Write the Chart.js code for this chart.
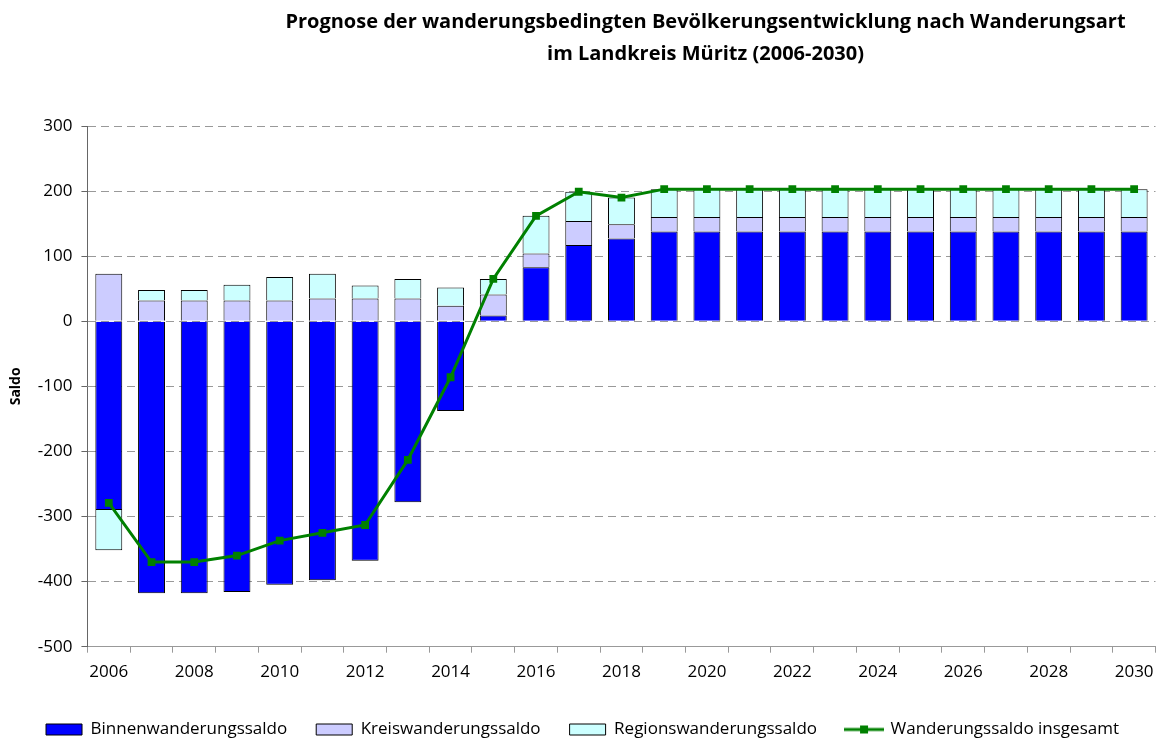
<!DOCTYPE html>
<html>
<head>
<meta charset="utf-8">
<script src="https://cdn.jsdelivr.net/npm/chart.js@4.4.0/dist/chart.umd.min.js"></script>
<style>
  html, body { margin: 0; padding: 0; background: #fff; }
  .chart-box { width: 1161px; height: 742px; }
</style>
</head>
<body>
<div class="chart-box"><canvas id="chart"></canvas></div>
<script>
const years = ["2006", "2007", "2008", "2009", "2010", "2011", "2012", "2013", "2014", "2015", "2016", "2017", "2018",
  "2019", "2020", "2021", "2022", "2023", "2024", "2025", "2026", "2027", "2028", "2029", "2030"];

const binnen = [-290, -418, -418, -416, -405, -398, -368, -278, -138, 9, 83, 117, 127,
  138, 138, 138, 138, 138, 138, 138, 138, 138, 138, 138, 138];
const kreis = [73, 32, 32, 32, 32, 35, 35, 35, 24, 32, 21, 37, 22,
  22, 22, 22, 22, 22, 22, 22, 22, 22, 22, 22, 22];
const region = [-62, 16, 16, 24, 36, 38, 20, 30, 28, 24, 58, 45, 41,
  43, 43, 43, 43, 43, 43, 43, 43, 43, 43, 43, 43];
const insgesamt = [-279, -370, -370, -360, -337, -325, -313, -213, -86, 65, 162, 199, 190,
  203, 203, 203, 203, 203, 203, 203, 203, 203, 203, 203, 203];

const yTicks = [-500, -400, -300, -200, -100, 0, 100, 200, 300];

const font = "'Open Sans', 'DejaVu Sans', sans-serif";

// little line+square icon for the legend entry of the line
const lineIcon = document.createElement("canvas");
lineIcon.width = 40;
lineIcon.height = 12;
const ic = lineIcon.getContext("2d");
ic.strokeStyle = "#008000";
ic.lineWidth = 3;
ic.beginPath();
ic.moveTo(0, 6);
ic.lineTo(40, 6);
ic.stroke();
ic.fillStyle = "#008000";
ic.fillRect(16, 2, 8, 8);

// move the title centre to the right like in the original
const shiftTitle = {
  id: "shiftTitle",
  afterLayout(chart) {
    if (chart.titleBlock) chart.titleBlock.left = 254;
  },
};

const barStyle = {
  type: "bar",
  borderColor: "#000",
  borderWidth: 1,
  categoryPercentage: 1,
  barPercentage: 0.63,
  stack: "saldo",
};

new Chart(document.getElementById("chart"), {
  type: "bar",
  data: {
    labels: years,
    datasets: [
      { ...barStyle, label: "Binnenwanderungssaldo", data: binnen, backgroundColor: "#0000FF" },
      { ...barStyle, label: "Kreiswanderungssaldo", data: kreis, backgroundColor: "#CCCCFF" },
      { ...barStyle, label: "Regionswanderungssaldo", data: region, backgroundColor: "#CCFFFF" },
      {
        type: "line",
        label: "Wanderungssaldo insgesamt",
        data: insgesamt,
        stack: "line",
        order: -1,
        borderColor: "#008000",
        backgroundColor: "#008000",
        borderWidth: 3,
        pointStyle: "rect",
        pointRadius: 5.5,
        pointBorderWidth: 0,
        tension: 0,
      },
    ],
  },
  options: {
    responsive: true,
    maintainAspectRatio: false,
    animation: false,
    // legend sits very low in the original, hence the negative bottom padding
    layout: { padding: { left: 8, right: 4, top: 0, bottom: -6 } },
    scales: {
      x: {
        stacked: true,
        offset: true,
        // labels fit inside their categories, no extra side room needed
        afterFit: (scale) => {
          scale.paddingRight = 0;
        },
        grid: {
          offset: true,
          drawOnChartArea: false,
          tickLength: 6,
          tickColor: "#999",
        },
        border: { color: "#999", width: 1 },
        ticks: {
          autoSkip: false,
          maxRotation: 0,
          padding: 12,
          color: "#000",
          font: { family: font, size: 17, lineHeight: 0.9 },
          callback: function (value, index) {
            return index % 2 === 0 ? this.getLabelForValue(value) : "";
          },
        },
      },
      y: {
        stacked: true,
        min: -500,
        max: 300,
        afterBuildTicks: (axis) => {
          axis.ticks = yTicks.map((v) => ({ value: v }));
        },
        grid: {
          color: "#999",
          tickLength: 6,
          tickColor: "#666",
        },
        border: { color: "#666", width: 1, dash: [8, 5] },
        ticks: {
          padding: 9,
          color: "#000",
          font: { family: font, size: 17 },
        },
        title: {
          display: true,
          text: "Saldo",
          color: "#000",
          padding: { top: 0, bottom: 4 },
          font: { family: font, size: 14, weight: "bold" },
        },
      },
    },
    plugins: {
      title: {
        display: true,
        text: ["Prognose der wanderungsbedingten Bevölkerungsentwicklung nach Wanderungsart", "im Landkreis Müritz (2006-2030)"],
        color: "#000",
        padding: { top: 6, bottom: 56 },
        font: { family: font, size: 20, weight: "bold", lineHeight: 1.6 },
      },
      legend: {
        position: "bottom",
        labels: {
          usePointStyle: true,
          pointStyleWidth: 36,
          boxHeight: 11,
          padding: 29,
          color: "#000",
          font: { family: font, size: 17 },
          generateLabels: (chart) => {
            const items = Chart.defaults.plugins.legend.labels.generateLabels(chart);
            items.forEach((item) => {
              if (item.datasetIndex === 3) {
                item.pointStyle = lineIcon;
              } else {
                item.pointStyle = "rect";
                item.strokeStyle = "#000";
                item.lineWidth = 1;
              }
            });
            return items.sort((a, b) => a.datasetIndex - b.datasetIndex);
          },
        },
      },
      tooltip: { enabled: false },
    },
  },
  plugins: [shiftTitle],
});
</script>
</body>
</html>
